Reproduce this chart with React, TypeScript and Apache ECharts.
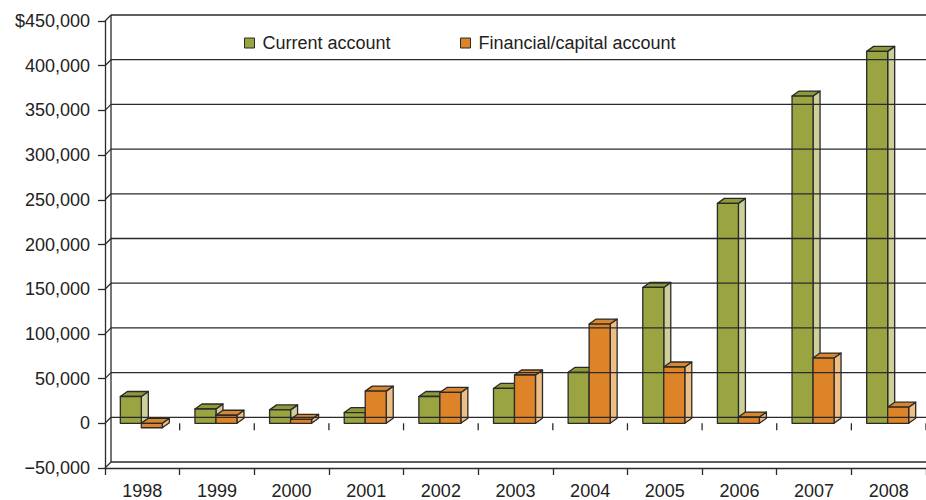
import React, { useEffect, useRef } from "react";
import * as echarts from "echarts";

// Balance of payments, 1998–2008 (US$)
const years = ["1998", "1999", "2000", "2001", "2002", "2003", "2004", "2005", "2006", "2007", "2008"];
const currentAccount = [30000, 16000, 15000, 12000, 30000, 39000, 57000, 152000, 246000, 366000, 416000];
const financialAccount = [-5000, 9000, 4500, 36000, 34500, 54000, 111000, 63000, 7000, 73000, 18000];
const yTickValues = [-50000, 0, 50000, 100000, 150000, 200000, 250000, 300000, 350000, 400000, 450000];

const Y_MIN = -50000;
const Y_MAX = 450000;
const INK = "#2a2a2a";
const FONT = "'Liberation Sans', Arial, Helvetica, sans-serif";

// depth of the back wall and of each bar
const WALL_DX = 6;
const WALL_DY = -6;
const BAR_DX = 7;
const BAR_DY = -5;
const BAR_W = 21;

const GREEN = { front: "#9aa541", top: "#8e9a3a", side: "#cdd09b" };
const ORANGE = { front: "#dd8429", top: "#d9862c", side: "#efbe86" };

const line = (x1: number, y1: number, x2: number, y2: number, w = 1.3) => ({
  type: "line",
  silent: true,
  shape: { x1, y1, x2, y2 },
  style: { stroke: INK, lineWidth: w },
});

// back wall, gridlines and the depth connectors of the axis frame
const frameItem = (_params: any, api: any) => {
  const bw = api.size([1, 0])[0];
  const left = api.coord([0, 0])[0] - bw / 2;
  const right = api.coord([years.length - 1, 0])[0] + bw / 2;
  const yTop = api.coord([0, Y_MAX])[1];
  const yBot = api.coord([0, Y_MIN])[1];
  const y0 = api.coord([0, 0])[1];
  const children: any[] = [];
  children.push(line(left + WALL_DX, yTop + WALL_DY, left + WALL_DX, yBot + WALL_DY));
  yTickValues.forEach((v) => {
    const y = api.coord([0, v])[1];
    children.push(line(left, y, left + WALL_DX, y + WALL_DY));
    children.push(line(left + WALL_DX, y + WALL_DY, right + WALL_DX + 30, y + WALL_DY));
  });
  for (let k = 1; k <= years.length; k++) {
    const x = left + k * bw;
    children.push(line(x, y0, x, y0 + 7));
  }
  return { type: "group", children };
};

const barItem = (shift: number, pal: { front: string; top: string; side: string }) => (_params: any, api: any) => {
  const i = api.value(0);
  const v = api.value(1);
  const [cx, yv] = api.coord([i, v]);
  const y0 = api.coord([i, 0])[1];
  const x0 = cx + shift;
  const x1 = x0 + BAR_W;
  const top = Math.min(yv, y0);
  const bot = Math.max(yv, y0);
  const stroke = { stroke: INK, lineWidth: 1.3, lineJoin: "round" };
  return {
    type: "group",
    children: [
      {
        type: "polygon",
        shape: { points: [[x1, top], [x1 + BAR_DX, top + BAR_DY], [x1 + BAR_DX, bot + BAR_DY], [x1, bot]] },
        style: { fill: pal.side, ...stroke },
      },
      {
        type: "polygon",
        shape: { points: [[x0, top], [x0 + BAR_DX, top + BAR_DY], [x1 + BAR_DX, top + BAR_DY], [x1, top]] },
        style: { fill: pal.top, ...stroke },
      },
      {
        type: "rect",
        shape: { x: x0, y: top, width: BAR_W, height: bot - top },
        style: { fill: pal.front, ...stroke },
      },
    ],
  };
};

const fmt = (v: number) => v.toLocaleString("en-US");

export default function App() {
  const ref = useRef<HTMLDivElement>(null);

  useEffect(() => {
    if (!ref.current) return;
    const chart = echarts.init(ref.current, undefined, { renderer: "svg" });
    const legendBase = {
      orient: "horizontal",
      top: 29,
      itemWidth: 10,
      itemHeight: 10,
      icon: "rect",
      selectedMode: false,
      textStyle: { fontSize: 18, color: "#222", fontFamily: FONT, padding: [0, 0, 0, 3] },
    };
    chart.setOption({
      animation: false,
      backgroundColor: "#fff",
      textStyle: { fontFamily: FONT },
      legend: [
        {
          ...legendBase,
          left: 239,
          data: [{ name: "Current account", itemStyle: { color: GREEN.front, borderColor: INK, borderWidth: 1 } }],
        },
        {
          ...legendBase,
          left: 455,
          data: [{ name: "Financial/capital account", itemStyle: { color: ORANGE.front, borderColor: INK, borderWidth: 1 } }],
        },
      ],
      grid: { left: 105, right: -4, top: 21, bottom: 31, containLabel: false },
      xAxis: {
        type: "category",
        data: years,
        axisLine: { onZero: false, lineStyle: { color: INK, width: 1.3 } },
        axisTick: { show: true, length: 7, interval: 0, lineStyle: { color: INK, width: 1.3 } },
        axisLabel: { fontSize: 18, color: "#222", margin: 14, interval: 0, fontFamily: FONT },
        splitLine: { show: false },
      },
      yAxis: {
        type: "value",
        min: Y_MIN,
        max: Y_MAX,
        interval: 50000,
        axisLine: { show: true, lineStyle: { color: INK, width: 1.3 } },
        axisTick: { show: true, length: 7, lineStyle: { color: INK, width: 1.3 } },
        axisLabel: {
          fontSize: 18,
          color: "#222",
          margin: 15,
          fontFamily: FONT,
          formatter: (v: number) => (v === Y_MAX ? "$" + fmt(v) : v < 0 ? "\u2212" + fmt(-v) : fmt(v)),
        },
        splitLine: { show: false },
      },
      series: [
        {
          name: "Current account",
          type: "custom",
          z: 2,
          itemStyle: { color: GREEN.front },
          encode: { x: 0, y: 1 },
          data: currentAccount.map((v, i) => [i, v]),
          renderItem: barItem(-22, GREEN),
        },
        {
          name: "Financial/capital account",
          type: "custom",
          z: 2,
          itemStyle: { color: ORANGE.front },
          encode: { x: 0, y: 1 },
          data: financialAccount.map((v, i) => [i, v]),
          renderItem: barItem(-1, ORANGE),
        },
        {
          name: "frame",
          type: "custom",
          z: 3,
          silent: true,
          encode: { x: 0, y: 1 },
          data: [[0, 0]],
          renderItem: frameItem,
        },
      ],
    });
    return () => chart.dispose();
  }, []);

  return (
    <div
      ref={ref}
      style={{ position: "fixed", left: 0, top: 0, width: 926, height: 500, background: "#fff" }}
    />
  );
}
